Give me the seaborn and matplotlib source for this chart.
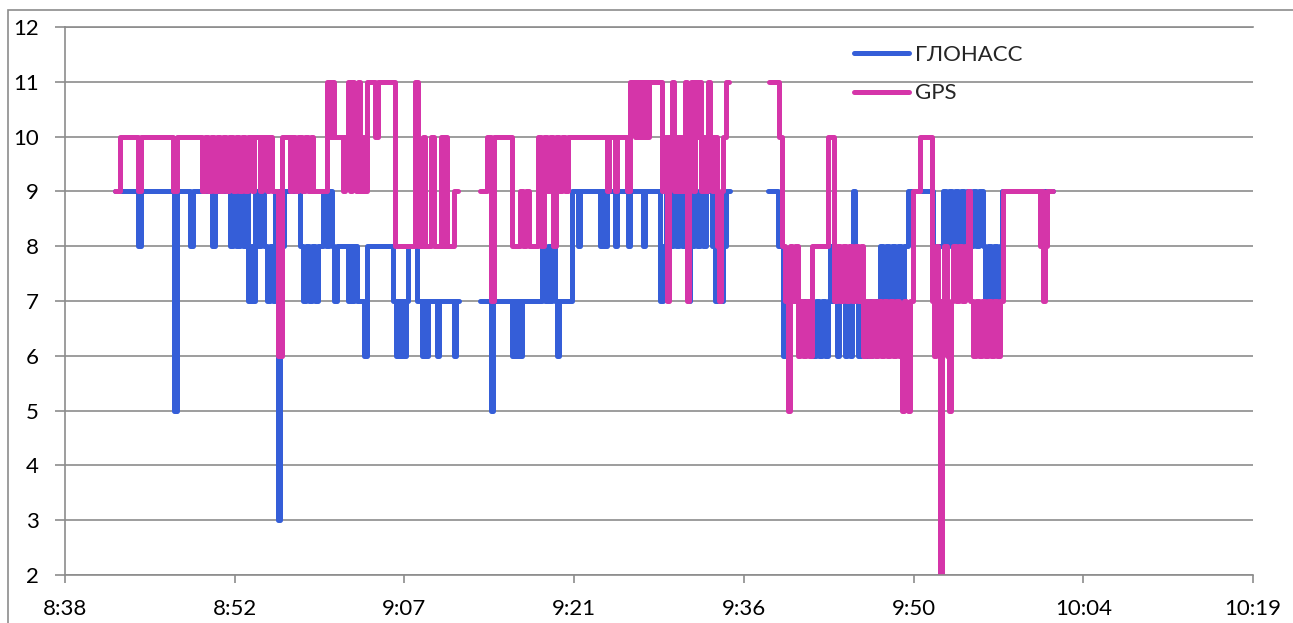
import numpy as np
import pandas as pd
import seaborn as sns
import matplotlib.pyplot as plt
from matplotlib.lines import Line2D
from matplotlib.patches import Rectangle
from matplotlib.ticker import FixedLocator, FuncFormatter

nan = np.nan

# время в минутах после 8:00, число спутников (nan = разрыв записи)
t_glonass = [
    42.64, 44.60, 44.84, 47.65, 47.90, 49.01, 49.26, 50.87, 51.12, 52.40,
    52.65, 52.91, 53.25, 53.50, 53.76, 53.93, 54.18, 54.35, 54.52, 54.78,
    55.03, 55.29, 55.54, 55.79, 56.04, 56.21, 56.47, 56.64, 56.81, 56.98,
    58.34, 58.59, 58.85, 59.10, 59.36, 59.61, 59.87, 60.29, 60.55, 60.80,
    61.06, 61.23, 61.48, 62.41, 62.58, 62.75, 62.92, 63.18, 63.77, 64.03,
    66.23, 66.49, 66.66, 66.83, 66.99, 67.16, 67.33, 67.50, 68.26, 68.69,
    68.86, 69.03, 69.20, 69.96, 70.13, 71.41, 71.58, 71.83, 72.00,
    73.61, 74.54, 74.71, 76.33, 76.50, 76.67, 76.84, 77.01, 77.18, 78.87,
    79.13, 79.38, 79.55, 79.72, 79.98, 80.15, 80.32, 81.42, 81.93, 82.10,
    83.80, 83.97, 84.14, 84.39, 85.07, 85.24, 86.17, 86.34, 87.44, 87.61,
    88.89, 89.14, 89.39, 89.73, 89.99, 90.24, 90.50, 90.75, 91.01, 91.26,
    91.43, 91.77, 92.03, 92.28, 92.53, 92.79, 93.30, 93.55, 93.81, 94.06,
    94.23, 94.48, 94.82, 95.00,
    98.05, 98.90, 99.32, 99.49, 99.66, 99.83, 101.87, 102.12, 102.38, 102.63,
    102.89, 103.14, 103.31, 103.48, 103.91, 104.08, 104.58, 104.75, 105.01, 105.18,
    105.26, 105.43, 105.69, 105.94, 106.20, 106.45, 106.70, 106.87, 107.55, 107.80,
    108.06, 108.31, 108.57, 108.82, 109.08, 109.33, 109.59, 109.93, 112.05, 112.90,
    113.15, 113.41, 113.66, 113.92, 114.17, 114.43, 114.68, 114.94, 115.19, 115.44,
    115.70, 115.95, 116.29, 116.46, 116.72, 116.97, 117.23, 117.48, 117.74, 117.91,
    122.23,
]
n_glonass = [
    9, 8, 9, 5, 9, 8, 9, 8, 9, 8,
    9, 8, 9, 8, 9, 7, 8, 7, 9, 8,
    9, 8, 7, 8, 7, 9, 3, 9, 8, 9,
    8, 7, 8, 7, 8, 7, 8, 9, 8, 9,
    8, 7, 8, 7, 8, 7, 8, 7, 6, 8,
    7, 6, 7, 6, 7, 6, 7, 8, 7, 6,
    7, 6, 7, 6, 7, 6, 7, 7, nan,
    7, 5, 7, 6, 7, 6, 7, 6, 7, 8,
    7, 8, 7, 8, 7, 6, 7, 9, 8, 9,
    8, 9, 8, 9, 8, 9, 8, 9, 8, 9,
    7, 8, 9, 8, 9, 8, 9, 8, 9, 7,
    8, 9, 8, 9, 8, 9, 8, 7, 8, 7,
    8, 9, 9, nan,
    9, 8, 6, 7, 6, 7, 6, 7, 6, 7,
    6, 7, 8, 7, 6, 7, 6, 7, 6, 7,
    9, 7, 6, 7, 6, 7, 6, 7, 8, 7,
    8, 7, 8, 7, 8, 7, 8, 9, 8, 9,
    8, 9, 8, 9, 8, 9, 8, 9, 8, 9,
    8, 9, 8, 7, 8, 7, 8, 7, 8, 9,
    9,
]

t_gps = [
    42.64, 43.07, 44.60, 44.84, 47.56, 47.90, 50.03, 50.29, 50.54, 50.79,
    51.04, 51.30, 51.55, 51.80, 52.06, 52.31, 52.65, 52.91, 53.16, 53.42,
    53.67, 53.93, 54.27, 54.44, 54.95, 55.12, 55.54, 55.71, 55.96, 56.47,
    56.81, 57.49, 57.66, 57.91, 58.17, 58.51, 58.76, 59.02, 59.27, 59.44,
    60.63, 60.89, 61.06, 61.23, 61.99, 62.16, 62.41, 62.58, 62.75, 62.92,
    63.09, 63.26, 63.43, 63.60, 63.77, 64.03, 64.70, 64.96, 66.40, 68.10,
    68.35, 68.77, 68.94, 69.45, 69.71, 70.30, 70.47, 70.64, 70.81, 71.41,
    71.75, 71.90,
    73.61, 74.20, 74.54, 74.80, 76.33, 77.01, 77.26, 77.52, 77.77, 78.53,
    78.79, 79.04, 79.30, 79.55, 79.81, 80.06, 80.32, 80.57, 80.82, 81.08,
    84.39, 84.56, 85.07, 85.24, 86.09, 86.34, 86.76, 86.93, 87.10, 87.27,
    87.44, 87.61, 87.78, 87.95, 89.06, 89.31, 89.48, 89.65, 89.90, 90.07,
    90.24, 90.41, 90.58, 90.75, 91.01, 91.18, 91.35, 91.52, 91.69, 91.86,
    92.03, 92.20, 92.37, 92.53, 92.70, 92.96, 93.13, 93.30, 93.47, 93.72,
    93.89, 94.06, 94.23, 94.48, 94.74, 94.90,
    98.14, 98.99, 99.24, 99.49, 99.75, 99.92, 100.09, 100.34, 100.59, 100.76,
    101.02, 101.27, 101.53, 101.78, 103.14, 103.65, 103.91, 104.16, 104.41, 104.67,
    104.92, 105.18, 105.43, 105.69, 105.94, 106.11, 106.37, 106.62, 106.87, 107.13,
    107.38, 107.64, 107.89, 108.15, 108.40, 108.66, 108.91, 109.17, 109.42, 109.59,
    109.76, 109.93, 110.10, 110.35, 110.95, 111.97, 112.14, 112.31, 112.48, 112.64,
    112.81, 112.98, 113.24, 113.41, 113.58, 113.75, 114.00, 114.26, 114.51, 114.77,
    115.02, 115.19, 115.44, 115.70, 115.95, 116.21, 116.46, 116.72, 116.97, 117.23,
    117.48, 117.74, 117.99, 121.13, 121.30, 121.38, 121.55, 121.72, 122.23,
]
n_gps = [
    9, 10, 9, 10, 9, 10, 9, 10, 9, 10,
    9, 10, 9, 10, 9, 10, 9, 10, 9, 10,
    9, 10, 9, 10, 9, 10, 9, 10, 9, 6,
    10, 9, 10, 9, 10, 9, 10, 9, 10, 9,
    11, 10, 11, 10, 9, 10, 11, 9, 11, 10,
    9, 11, 9, 10, 9, 11, 10, 11, 8, 11,
    8, 10, 8, 10, 8, 10, 8, 10, 8, 9,
    9, nan,
    9, 10, 7, 10, 8, 9, 8, 9, 8, 10,
    8, 10, 9, 10, 8, 10, 9, 10, 9, 10,
    9, 10, 9, 10, 9, 11, 10, 11, 10, 11,
    10, 11, 10, 11, 9, 10, 7, 10, 11, 9,
    10, 9, 10, 9, 11, 7, 10, 11, 9, 11,
    10, 11, 9, 10, 9, 11, 10, 9, 10, 8,
    7, 9, 10, 11, 11, nan,
    11, 10, 8, 7, 5, 8, 7, 8, 6, 7,
    6, 7, 6, 8, 10, 7, 8, 7, 8, 7,
    8, 7, 8, 7, 8, 6, 7, 6, 7, 6,
    7, 6, 7, 6, 7, 6, 7, 6, 5, 7,
    6, 5, 7, 9, 10, 7, 6, 8, 7, 2,
    7, 8, 6, 5, 7, 8, 7, 8, 7, 8,
    9, 7, 6, 7, 6, 7, 6, 7, 6, 7,
    6, 7, 9, 8, 9, 7, 8, 9, 9,
]

names = ["ГЛОНАСС", "GPS"]
colors = ["#355ED8", "#D535A9"]
x_ticks = [38.4, 52.8, 67.2, 81.6, 96.0, 110.4, 124.8, 139.2]
y_ticks = list(range(2, 13))

# собираем одну таблицу, разрывы -> отдельные отрезки линии
frames = []
for name, t, n in [(names[0], t_glonass, n_glonass), (names[1], t_gps, n_gps)]:
    d = pd.DataFrame({"t": t, "n": n})
    d["seg"] = d["n"].isna().cumsum()
    d["sys"] = name
    frames.append(d.dropna())
df = pd.concat(frames, ignore_index=True)
df["unit"] = df["sys"] + "_" + df["seg"].astype(str)

sns.set_style("white")
plt.rcParams["font.family"] = ["Lato", "Noto Sans", "DejaVu Sans"]
grey = "#8C8C8C"

fig, ax = plt.subplots(figsize=(12.93, 6.23), dpi=100)
fig.subplots_adjust(left=65 / 1293, right=1253 / 1293, top=1 - 27 / 623, bottom=1 - 575 / 623)

sns.lineplot(data=df, x="t", y="n", hue="sys", hue_order=names, palette=colors,
             units="unit", estimator=None, sort=False, drawstyle="steps-post",
             linewidth=3.6, legend=False, ax=ax)

ax.set_xlim(x_ticks[0], x_ticks[-1])
ax.set_ylim(2, 12)
ax.xaxis.set_major_locator(FixedLocator(x_ticks))
ax.xaxis.set_major_formatter(FuncFormatter(lambda m, p: f"{8 + int(m + 1e-6) // 60}:{int(m + 1e-6) % 60:02d}"))
ax.set_yticks(y_ticks)
ax.set_xlabel("")
ax.set_ylabel("")

ax.yaxis.grid(True, color=grey, linewidth=1.2)
ax.xaxis.grid(False)
for s in ["left", "bottom", "top"]:
    ax.spines[s].set_color(grey)
    ax.spines[s].set_linewidth(1.2)
ax.spines["right"].set_visible(False)
ax.tick_params(axis="y", direction="out", length=7, width=1.2, color=grey, pad=12, labelsize=16, labelcolor="black", left=True)
ax.tick_params(axis="x", direction="out", length=5.5, width=1.2, color=grey, pad=12, labelsize=16, labelcolor="black", bottom=True)

handles = [Line2D([], [], color=c, linewidth=3.6, solid_capstyle="round") for c in colors]
ax.legend(handles, names, loc="upper left", bbox_to_anchor=(0.664, 0.968), frameon=False,
          fontsize=16, handlelength=2.5, handletextpad=0.25, labelspacing=0.85,
          borderpad=0, borderaxespad=0)

# рамка области диаграммы
fig.add_artist(Rectangle((8 / 1293, -0.1), 1.2, 1.1 - 10 / 623, transform=fig.transFigure,
                         fill=False, edgecolor=grey, linewidth=1.2))

fig.savefig("out.png", dpi=100)
